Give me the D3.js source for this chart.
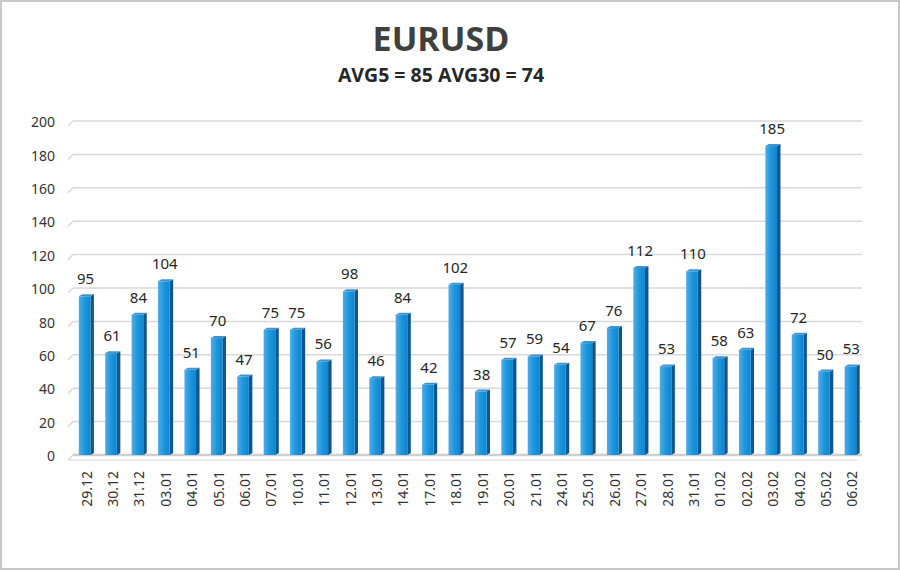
<!DOCTYPE html>
<html><head><meta charset="utf-8">
<script src="https://cdn.jsdelivr.net/npm/d3@7/dist/d3.min.js"></script>
<style>body{margin:0;background:#fff}svg{display:block}</style>
</head><body><svg id="c" width="900" height="570"></svg>
<script>
const dates = ["29.12","30.12","31.12","03.01","04.01","05.01","06.01","07.01","10.01","11.01","12.01","13.01","14.01","17.01","18.01","19.01","20.01","21.01","24.01","25.01","26.01","27.01","28.01","31.01","01.02","02.02","03.02","04.02","05.02","06.02"];
const values = [95,61,84,104,51,70,47,75,75,56,98,46,84,42,102,38,57,59,54,67,76,112,53,110,58,63,185,72,50,53];
const yTicks = [0,20,40,60,80,100,120,140,160,180,200];
const title = "EURUSD";
const subtitle = "AVG5 = 85 AVG30 = 74";

(function(){
const svg = d3.select("#c");
svg.append("rect").attr("x",1).attr("y",1).attr("width",898).attr("height",568)
  .attr("fill","#fff").attr("stroke","#c8c8c8").attr("stroke-width",2);

const defs = svg.append("defs");
const g1 = defs.append("linearGradient").attr("id","front").attr("x1","0").attr("x2","1").attr("y1","0").attr("y2","0");
g1.append("stop").attr("offset","0").attr("stop-color","#52ace6");
g1.append("stop").attr("offset","0.5").attr("stop-color","#1e96dc");
g1.append("stop").attr("offset","1").attr("stop-color","#0b86d0");

svg.append("text").attr("x",441).attr("y",51).attr("text-anchor","middle")
  .attr("font-family","Open Sans").attr("font-weight","bold").attr("font-size",34)
  .attr("fill","#404040").text(title);
svg.append("text").attr("x",441).attr("y",82).attr("text-anchor","middle")
  .attr("font-family","Open Sans").attr("font-weight","bold").attr("font-size",19.5)
  .attr("fill","#262626").text(subtitle);

const pl = 73, pr = 862, pt = 121, pb = 455;
const x = d3.scaleBand().domain(dates).range([pl,pr]).paddingInner(0.56).paddingOuter(0.22);
const y = d3.scaleLinear().domain([0,200]).range([pb,pt]);

const grid = svg.append("g");
yTicks.forEach(t=>{
  grid.append("line").attr("x1",pl).attr("x2",pr).attr("y1",y(t)).attr("y2",y(t))
    .attr("stroke",t===0?"#cfcfcf":"#d9d9d9").attr("stroke-width",t===0?2.5:1.5);
  grid.append("line").attr("x1",pl-5).attr("x2",pl).attr("y1",y(t)+5).attr("y2",y(t))
    .attr("stroke","#d9d9d9").attr("stroke-width",1.5);
});
grid.append("line").attr("x1",pl-5).attr("x2",pr-5).attr("y1",pb+5).attr("y2",pb+5)
  .attr("stroke","#e2e2e2").attr("stroke-width",1.5);

const yAxis = svg.append("g").attr("transform",`translate(${pl-18},0)`)
  .call(d3.axisLeft(y).tickValues(yTicks).tickSize(0).tickPadding(0));
yAxis.select(".domain").remove();
yAxis.selectAll("text").attr("font-family","Noto Sans").attr("font-size",14).attr("fill","#333").attr("dy","0.4em");

const bw = x.bandwidth(), d = 3.5;
const bars = svg.append("g");
dates.forEach((k,i)=>{
  const x0 = x(k), y0 = y(values[i]);
  bars.append("path").attr("d",`M${x0+bw},${y0} L${x0+bw+d},${y0-2} L${x0+bw+d},${pb-2} L${x0+bw},${pb} Z`)
    .attr("fill","#0d5690");
  bars.append("path").attr("d",`M${x0},${y0} L${x0+d},${y0-2} L${x0+bw+d},${y0-2} L${x0+bw},${y0} Z`)
    .attr("fill","#3f92cc");
  bars.append("rect").attr("x",x0).attr("y",y0).attr("width",bw).attr("height",pb-y0)
    .attr("fill","url(#front)");
  bars.append("text").attr("x",x0+bw/2+1).attr("y",y0-12).attr("text-anchor","middle")
    .attr("font-family","Noto Sans").attr("font-size",15).attr("fill","#262626").text(values[i]);
});

const xAxis = svg.append("g").attr("transform",`translate(0,${pb+16})`)
  .call(d3.axisBottom(x).tickSize(0).tickPadding(0));
xAxis.select(".domain").remove();
xAxis.selectAll("text").attr("font-family","Noto Sans").attr("font-size",14).attr("fill","#333")
  .attr("text-anchor","end").attr("dy",null).attr("y",0).attr("x",0)
  .attr("transform","translate(7,0) rotate(-90)");
})();
</script></body></html>
